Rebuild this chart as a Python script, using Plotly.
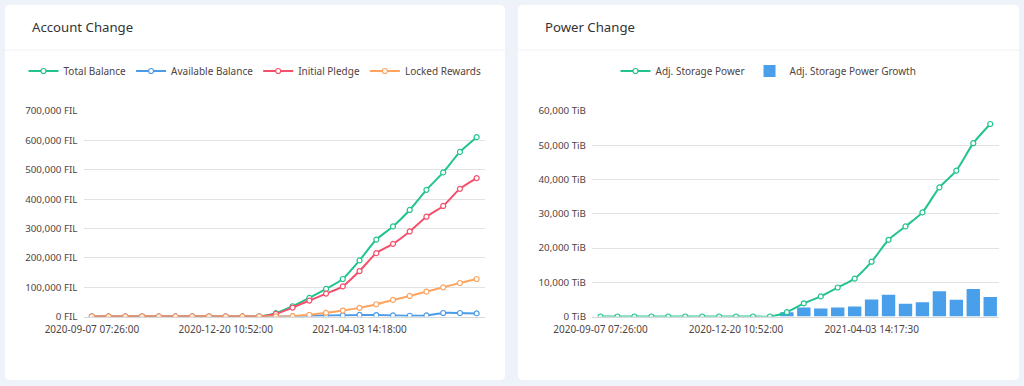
import plotly.graph_objects as go

# ---------------- data ----------------
account_dates = [
    "2020-09-07 07:26:00", "2020-09-20 07:51:45", "2020-10-03 08:17:30", "2020-10-16 08:43:15",
    "2020-10-29 09:09:00", "2020-11-11 09:34:45", "2020-11-24 10:00:30", "2020-12-07 10:26:15",
    "2020-12-20 10:52:00", "2021-01-02 11:17:45", "2021-01-15 11:43:30", "2021-01-28 12:09:15",
    "2021-02-10 12:35:00", "2021-02-23 13:00:45", "2021-03-08 13:26:30", "2021-03-21 13:52:15",
    "2021-04-03 14:18:00", "2021-04-16 14:43:45", "2021-04-29 15:09:30", "2021-05-12 15:35:15",
    "2021-05-25 16:01:00", "2021-06-07 16:26:45", "2021-06-20 16:52:30", "2021-07-03 17:18:15",
]
account_tick_labels = ["2020-09-07 07:26:00", "2020-12-20 10:52:00", "2021-04-03 14:18:00"]

total_balance = [0, 0, 0, 0, 0, 0, 0, 0, 0, 0, 0, 11300, 35000, 63300, 93800, 127700,
                 191000, 262000, 306800, 362900, 431400, 490900, 560600, 610900]
available_balance = [0, 0, 0, 0, 0, 0, 0, 0, 0, 0, 0, 0, 500, 2500, 3000, 4000,
                     5500, 5000, 3500, 2500, 3500, 12000, 12000, 10500]
initial_pledge = [0, 0, 0, 0, 0, 0, 0, 0, 0, 0, 0, 9000, 30500, 54200, 78000, 102800,
                  154800, 215800, 247500, 289700, 340000, 376600, 434900, 471400]
locked_rewards = [0, 0, 0, 0, 0, 0, 0, 0, 0, 0, 0, 300, 1100, 5600, 12400, 20300,
                  29400, 41800, 56500, 70000, 84700, 99400, 114100, 127700]

power_dates = [
    "2020-09-07 07:26:00", "2020-09-20 07:51:45", "2020-10-03 08:17:30", "2020-10-16 08:43:15",
    "2020-10-29 09:09:00", "2020-11-11 09:34:45", "2020-11-24 10:00:30", "2020-12-07 10:26:15",
    "2020-12-20 10:52:00", "2021-01-02 11:17:45", "2021-01-15 11:43:30", "2021-01-28 12:09:15",
    "2021-02-10 12:35:00", "2021-02-23 13:00:45", "2021-03-08 13:26:30", "2021-03-21 13:52:15",
    "2021-04-03 14:17:30", "2021-04-16 14:43:45", "2021-04-29 15:09:30", "2021-05-12 15:35:15",
    "2021-05-25 16:01:00", "2021-06-07 16:26:45", "2021-06-20 16:52:30", "2021-07-03 17:18:15",
]
power_tick_labels = ["2020-09-07 07:26:00", "2020-12-20 10:52:00", "2021-04-03 14:17:30"]

adj_storage_power = [0, 0, 0, 0, 0, 0, 0, 0, 0, 0, 0, 1250, 3850, 5870, 8460, 11060,
                     16000, 22400, 26300, 30400, 37700, 42600, 50600, 56200]
adj_storage_power_growth = [0, 0, 0, 0, 0, 0, 0, 0, 0, 0, 0, 1250, 2600, 2300, 2600, 2900,
                            5000, 6350, 3750, 4130, 7400, 4900, 8000, 5670]

# ---------------- style ----------------
W, H = 1024, 386
BG = "#EEF3FA"
FONT = "Noto Sans"
TXT = "#4f4444"
GRID = "#e2e2e2"
C_GREEN = "#22c38e"
C_BLUE = "#4b9be8"
C_RED = "#f4506c"
C_ORANGE = "#ffa35f"
C_BAR = "#4a9fea"


def px(x):
    return x / W


def py(y):
    return 1 - y / H


def rounded_rect(x0, y0, x1, y1, r):
    rx, ry = r / W, r / H
    X0, X1 = px(x0), px(x1)
    Y0, Y1 = py(y0), py(y1)  # Y0 top (bigger), Y1 bottom
    return (f"M {X0+rx},{Y0} L {X1-rx},{Y0} Q {X1},{Y0} {X1},{Y0-ry} "
            f"L {X1},{Y1+ry} Q {X1},{Y1} {X1-rx},{Y1} L {X0+rx},{Y1} "
            f"Q {X0},{Y1} {X0},{Y1+ry} L {X0},{Y0-ry} Q {X0},{Y0} {X0+rx},{Y0} Z")


fig = go.Figure()


def line_trace(x, y, name, color, xaxis, yaxis, legend):
    return go.Scatter(
        x=x, y=y, name=name, mode="lines+markers",
        line=dict(color=color, width=2, shape="spline", smoothing=0.6),
        marker=dict(symbol="circle", size=5, color="white", line=dict(color=color, width=1.2)),
        xaxis=xaxis, yaxis=yaxis, legend=legend,
    )


fig.add_trace(line_trace(account_dates, total_balance, "Total Balance", C_GREEN, "x", "y", "legend"))
fig.add_trace(line_trace(account_dates, available_balance, "Available Balance", C_BLUE, "x", "y", "legend"))
fig.add_trace(line_trace(account_dates, initial_pledge, "Initial Pledge", C_RED, "x", "y", "legend"))
fig.add_trace(line_trace(account_dates, locked_rewards, "Locked Rewards", C_ORANGE, "x", "y", "legend"))

t = line_trace(power_dates, adj_storage_power, "Adj. Storage Power", C_GREEN, "x2", "y2", "legend2")
t.legendrank = 1
fig.add_trace(t)
fig.add_trace(go.Bar(
    x=power_dates, y=adj_storage_power_growth, name="Adj. Storage Power Growth",
    marker=dict(color=C_BAR, line=dict(width=0)), xaxis="x2", yaxis="y2",
    legend="legend2", legendrank=2,
))

# cards
cards = [(5, 5, 505, 380), (518, 5, 1019, 380)]
shapes = []
for (x0, y0, x1, y1) in cards:
    shapes.append(dict(type="path", path=rounded_rect(x0, y0, x1, y1, 5), xref="paper", yref="paper",
                       fillcolor="white", line=dict(width=0), layer="below"))
    shapes.append(dict(type="line", x0=px(x0), x1=px(x1), y0=py(50), y1=py(50), xref="paper", yref="paper",
                       line=dict(color="#eef2f6", width=1), layer="below"))

annotations = [
    dict(text="Account Change", x=px(29.5), y=py(27), xref="paper", yref="paper", xanchor="left",
         yanchor="middle", showarrow=False, font=dict(family=FONT, size=13.2, color="#333")),
    dict(text="Power Change", x=px(543), y=py(27), xref="paper", yref="paper", xanchor="left",
         yanchor="middle", showarrow=False, font=dict(family=FONT, size=13.2, color="#333")),
]

y_dom = [py(316.5), py(111)]
xaxis_common = dict(type="category", showgrid=False, zeroline=False, showline=True, linecolor="#d8d8d8",
                    linewidth=1, ticks="", tickfont=dict(family=FONT, size=10, color=TXT),
                    ticklabelstandoff=3, range=[-0.5, 23.5], fixedrange=True, automargin=False)
yaxis_common = dict(showgrid=True, gridcolor=GRID, gridwidth=1, zeroline=False, showline=False,
                    tickfont=dict(family=FONT, size=9.8, color=TXT), tickformat=",", ticks="",
                    ticklabelstandoff=5, fixedrange=True, automargin=False)

fig.update_layout(
    width=W, height=H, margin=dict(l=0, r=0, t=0, b=0, autoexpand=False),
    paper_bgcolor=BG, plot_bgcolor="rgba(0,0,0,0)",
    font=dict(family=FONT, color=TXT),
    showlegend=True, bargap=0.21,
    xaxis=dict(domain=[px(83.5), px(485)], anchor="y", tickvals=account_tick_labels,
               ticktext=account_tick_labels, **xaxis_common),
    yaxis=dict(domain=y_dom, anchor="x", range=[0, 700000], dtick=100000, ticksuffix=" FIL", **yaxis_common),
    xaxis2=dict(domain=[px(592), px(998.7)], anchor="y2", tickvals=power_tick_labels,
                ticktext=power_tick_labels, **xaxis_common),
    yaxis2=dict(domain=y_dom, anchor="x2", range=[0, 60000], dtick=10000, ticksuffix=" TiB", **yaxis_common),
    legend=dict(orientation="h", x=px(255), xanchor="center", y=py(71), yanchor="middle",
                font=dict(family=FONT, size=10, color=TXT), bgcolor="rgba(0,0,0,0)", itemwidth=30),
    legend2=dict(orientation="h", x=px(768.5), xanchor="center", y=py(71), yanchor="middle",
                 font=dict(family=FONT, size=10, color=TXT), bgcolor="rgba(0,0,0,0)", itemwidth=30,
                 traceorder="normal"),
    shapes=shapes, annotations=annotations,
)

fig.write_html("out.html", config={"displayModeBar": False},
               post_script="document.body.style.margin='0';document.body.style.overflow='hidden';")
